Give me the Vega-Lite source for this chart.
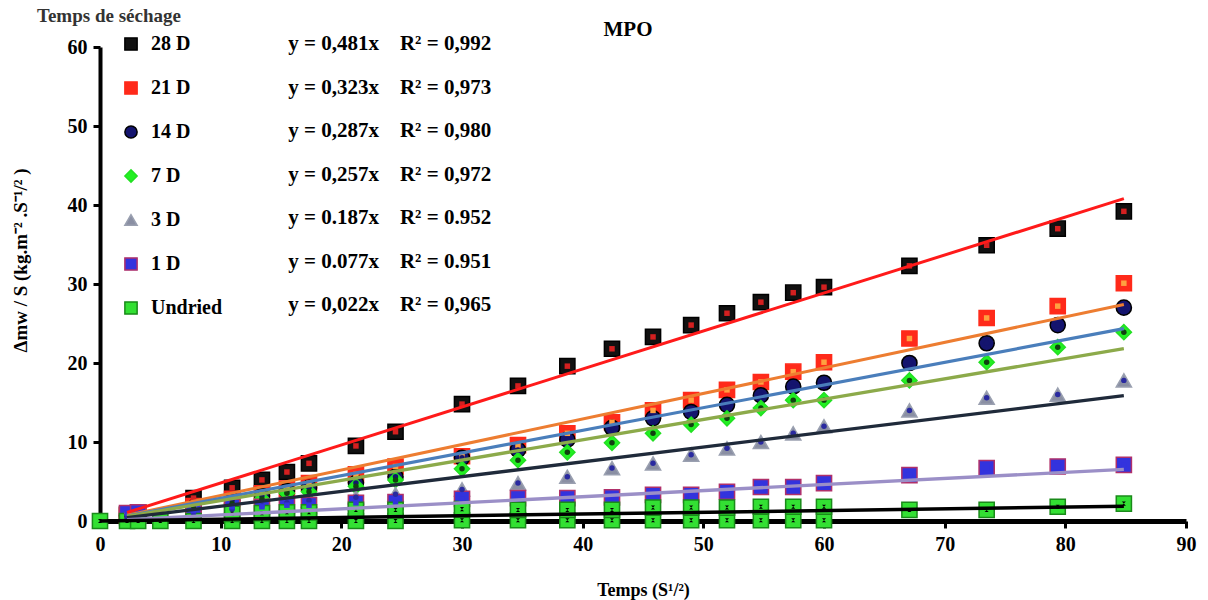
{
"$schema": "https://vega.github.io/schema/vega-lite/v6.json",
"width": 1086, "height": 474,
"autosize": "none",
"padding": {"left": 100, "top": 47, "right": 22, "bottom": 79},
"background": "white",
"config": {"view": {"stroke": null}, "font": "Liberation Serif", "axis": {"grid": false}},
"title": {"text": "MPO", "font": "Liberation Serif", "fontSize": 21, "fontWeight": "bold", "color": "black", "anchor": "middle", "frame": "group", "offset": 11, "dx": -15, "dy": 44},
"datasets": {
"pts": [
{"s":"28 D","x":2.24,"y":0.8},{"s":"28 D","x":3.16,"y":1.1},{"s":"28 D","x":7.75,"y":2.9},{"s":"28 D","x":10.95,"y":4.2},{"s":"28 D","x":13.42,"y":5.2},{"s":"28 D","x":15.49,"y":6.2},{"s":"28 D","x":17.32,"y":7.3},{"s":"28 D","x":21.21,"y":9.5},{"s":"28 D","x":24.49,"y":11.3},{"s":"28 D","x":30,"y":14.8},{"s":"28 D","x":34.64,"y":17.1},{"s":"28 D","x":38.73,"y":19.6},{"s":"28 D","x":42.43,"y":21.8},{"s":"28 D","x":45.83,"y":23.3},{"s":"28 D","x":48.99,"y":24.8},{"s":"28 D","x":51.96,"y":26.3},{"s":"28 D","x":54.77,"y":27.7},{"s":"28 D","x":57.45,"y":28.9},{"s":"28 D","x":60,"y":29.6},{"s":"28 D","x":67.08,"y":32.3},{"s":"28 D","x":73.48,"y":34.9},{"s":"28 D","x":79.37,"y":37.0},{"s":"28 D","x":84.85,"y":39.2},
{"s":"21 D","x":2.24,"y":0.7},{"s":"21 D","x":3.16,"y":0.9},{"s":"21 D","x":7.75,"y":1.9},{"s":"21 D","x":10.95,"y":2.8},{"s":"21 D","x":13.42,"y":3.5},{"s":"21 D","x":15.49,"y":4.1},{"s":"21 D","x":17.32,"y":4.8},{"s":"21 D","x":21.21,"y":5.9},{"s":"21 D","x":24.49,"y":6.9},{"s":"21 D","x":30,"y":8.2},{"s":"21 D","x":34.64,"y":9.6},{"s":"21 D","x":38.73,"y":11.1},{"s":"21 D","x":42.43,"y":12.5},{"s":"21 D","x":45.83,"y":14.0},{"s":"21 D","x":48.99,"y":15.3},{"s":"21 D","x":51.96,"y":16.6},{"s":"21 D","x":54.77,"y":17.6},{"s":"21 D","x":57.45,"y":18.9},{"s":"21 D","x":60,"y":20.1},{"s":"21 D","x":67.08,"y":23.1},{"s":"21 D","x":73.48,"y":25.7},{"s":"21 D","x":79.37,"y":27.2},{"s":"21 D","x":84.85,"y":30.1},
{"s":"14 D","x":2.24,"y":0.7},{"s":"14 D","x":3.16,"y":0.9},{"s":"14 D","x":7.75,"y":1.7},{"s":"14 D","x":10.95,"y":2.6},{"s":"14 D","x":13.42,"y":3.2},{"s":"14 D","x":15.49,"y":3.8},{"s":"14 D","x":17.32,"y":4.2},{"s":"14 D","x":21.21,"y":4.8},{"s":"14 D","x":24.49,"y":5.6},{"s":"14 D","x":30,"y":8.0},{"s":"14 D","x":34.64,"y":9.0},{"s":"14 D","x":38.73,"y":10.3},{"s":"14 D","x":42.43,"y":11.8},{"s":"14 D","x":45.83,"y":13.0},{"s":"14 D","x":48.99,"y":13.8},{"s":"14 D","x":51.96,"y":14.7},{"s":"14 D","x":54.77,"y":15.9},{"s":"14 D","x":57.45,"y":17.0},{"s":"14 D","x":60,"y":17.5},{"s":"14 D","x":67.08,"y":20.0},{"s":"14 D","x":73.48,"y":22.5},{"s":"14 D","x":79.37,"y":24.8},{"s":"14 D","x":84.85,"y":27.0},
{"s":"7 D","x":2.24,"y":0.6},{"s":"7 D","x":3.16,"y":0.8},{"s":"7 D","x":7.75,"y":1.5},{"s":"7 D","x":10.95,"y":2.2},{"s":"7 D","x":13.42,"y":2.8},{"s":"7 D","x":15.49,"y":3.5},{"s":"7 D","x":17.32,"y":3.7},{"s":"7 D","x":21.21,"y":4.4},{"s":"7 D","x":24.49,"y":5.2},{"s":"7 D","x":30,"y":6.6},{"s":"7 D","x":34.64,"y":7.7},{"s":"7 D","x":38.73,"y":8.7},{"s":"7 D","x":42.43,"y":9.9},{"s":"7 D","x":45.83,"y":11.1},{"s":"7 D","x":48.99,"y":12.2},{"s":"7 D","x":51.96,"y":13.0},{"s":"7 D","x":54.77,"y":14.3},{"s":"7 D","x":57.45,"y":15.3},{"s":"7 D","x":60,"y":15.3},{"s":"7 D","x":67.08,"y":17.8},{"s":"7 D","x":73.48,"y":20.1},{"s":"7 D","x":79.37,"y":22.0},{"s":"7 D","x":84.85,"y":23.9},
{"s":"3 D","x":2.24,"y":0.4},{"s":"3 D","x":3.16,"y":0.6},{"s":"3 D","x":7.75,"y":1.0},{"s":"3 D","x":10.95,"y":1.5},{"s":"3 D","x":13.42,"y":1.9},{"s":"3 D","x":15.49,"y":2.3},{"s":"3 D","x":17.32,"y":2.6},{"s":"3 D","x":21.21,"y":3.0},{"s":"3 D","x":24.49,"y":3.4},{"s":"3 D","x":30,"y":4.0},{"s":"3 D","x":34.64,"y":4.8},{"s":"3 D","x":38.73,"y":5.6},{"s":"3 D","x":42.43,"y":6.7},{"s":"3 D","x":45.83,"y":7.3},{"s":"3 D","x":48.99,"y":8.4},{"s":"3 D","x":51.96,"y":9.2},{"s":"3 D","x":54.77,"y":10.0},{"s":"3 D","x":57.45,"y":11.1},{"s":"3 D","x":60,"y":12.0},{"s":"3 D","x":67.08,"y":14.0},{"s":"3 D","x":73.48,"y":15.6},{"s":"3 D","x":79.37,"y":16.0},{"s":"3 D","x":84.85,"y":17.8},
{"s":"1 D","x":2.24,"y":1.0},{"s":"1 D","x":3.16,"y":1.1},{"s":"1 D","x":7.75,"y":1.3},{"s":"1 D","x":10.95,"y":1.8},{"s":"1 D","x":13.42,"y":1.8},{"s":"1 D","x":15.49,"y":2.0},{"s":"1 D","x":17.32,"y":2.0},{"s":"1 D","x":21.21,"y":2.3},{"s":"1 D","x":24.49,"y":2.4},{"s":"1 D","x":30,"y":2.8},{"s":"1 D","x":34.64,"y":2.9},{"s":"1 D","x":38.73,"y":2.9},{"s":"1 D","x":42.43,"y":3.0},{"s":"1 D","x":45.83,"y":3.3},{"s":"1 D","x":48.99,"y":3.3},{"s":"1 D","x":51.96,"y":3.7},{"s":"1 D","x":54.77,"y":4.3},{"s":"1 D","x":57.45,"y":4.3},{"s":"1 D","x":60,"y":4.8},{"s":"1 D","x":67.08,"y":5.8},{"s":"1 D","x":73.48,"y":6.7},{"s":"1 D","x":79.37,"y":6.9},{"s":"1 D","x":84.85,"y":7.1},
{"s":"Undried","x":0,"y":0},{"s":"Undried","x":2.24,"y":0},{"s":"Undried","x":3.16,"y":0},{"s":"Undried","x":5.0,"y":0},{"s":"Undried","x":7.75,"y":0},{"s":"Undried","x":10.95,"y":0},{"s":"Undried","x":13.42,"y":0},{"s":"Undried","x":15.49,"y":0},{"s":"Undried","x":17.32,"y":0},{"s":"Undried","x":21.21,"y":0},{"s":"Undried","x":24.49,"y":0},{"s":"Undried","x":30,"y":0.1},{"s":"Undried","x":34.64,"y":0.1},{"s":"Undried","x":38.73,"y":0.1},{"s":"Undried","x":42.43,"y":0.1},{"s":"Undried","x":45.83,"y":0.1},{"s":"Undried","x":48.99,"y":0.1},{"s":"Undried","x":51.96,"y":0.1},{"s":"Undried","x":54.77,"y":0.1},{"s":"Undried","x":57.45,"y":0.1},{"s":"Undried","x":60,"y":0.1},
{"s":"Undried","x":10.95,"y":0.9},{"s":"Undried","x":13.42,"y":1.0},{"s":"Undried","x":15.49,"y":1.1},{"s":"Undried","x":17.32,"y":1.1},{"s":"Undried","x":21.21,"y":1.4},{"s":"Undried","x":24.49,"y":1.4},{"s":"Undried","x":30,"y":1.5},{"s":"Undried","x":34.64,"y":1.4},{"s":"Undried","x":38.73,"y":1.4},{"s":"Undried","x":42.43,"y":1.4},{"s":"Undried","x":45.83,"y":1.7},{"s":"Undried","x":48.99,"y":1.7},{"s":"Undried","x":51.96,"y":1.7},{"s":"Undried","x":54.77,"y":1.8},{"s":"Undried","x":57.45,"y":1.8},{"s":"Undried","x":60,"y":1.8},{"s":"Undried","x":67.08,"y":1.4},{"s":"Undried","x":73.48,"y":1.4},{"s":"Undried","x":79.37,"y":1.8},{"s":"Undried","x":84.85,"y":2.2}
],
"trend": [
{"s":"28 D","x":2.24,"y":1.08},{"s":"28 D","x":84.85,"y":40.81},
{"s":"21 D","x":2.24,"y":0.72},{"s":"21 D","x":84.85,"y":27.41},
{"s":"14 D","x":2.24,"y":0.64},{"s":"14 D","x":84.85,"y":24.35},
{"s":"7 D","x":2.24,"y":0.58},{"s":"7 D","x":84.85,"y":21.81},
{"s":"3 D","x":2.24,"y":0.42},{"s":"3 D","x":84.85,"y":15.87},
{"s":"1 D","x":2.24,"y":0.17},{"s":"1 D","x":84.85,"y":6.53},
{"s":"Undried","x":0,"y":0},{"s":"Undried","x":84.85,"y":1.87}
],
"eqs": [
{"s":"28 D","eq":"y = 0,481x\u00a0\u00a0\u00a0\u00a0R² = 0,992"},
{"s":"21 D","eq":"y = 0,323x\u00a0\u00a0\u00a0\u00a0R² = 0,973"},
{"s":"14 D","eq":"y = 0,287x\u00a0\u00a0\u00a0\u00a0R² = 0,980"},
{"s":"7 D","eq":"y = 0,257x\u00a0\u00a0\u00a0\u00a0R² = 0,972"},
{"s":"3 D","eq":"y = 0.187x\u00a0\u00a0\u00a0\u00a0R² = 0.952"},
{"s":"1 D","eq":"y = 0.077x\u00a0\u00a0\u00a0\u00a0R² = 0.951"},
{"s":"Undried","eq":"y = 0,022x\u00a0\u00a0\u00a0\u00a0R² = 0,965"}
]
},
"layer": [
{
"layer": [
{
"data": {"name": "pts"},
"mark": {"type": "point", "filled": true, "strokeWidth": 1.5, "opacity": 1, "size": 230},
"encoding": {
"x": {"field": "x", "type": "quantitative", "scale": {"domain": [0, 90], "nice": false, "zero": false},
 "axis": {"values": [0,10,20,30,40,50,60,70,80,90], "title": "Temps (S¹/²)", "titleFont": "Liberation Serif", "titleFontSize": 18, "titleFontWeight": "bold", "titleColor": "black", "titlePadding": 27, "labelFont": "Liberation Serif", "labelFontSize": 20, "labelFontWeight": "bold", "labelColor": "black", "labelPadding": 6, "domainColor": "black", "domainWidth": 5, "tickColor": "black", "tickWidth": 3, "tickSize": 7, "grid": false, "labelFlush": false}},
"y": {"field": "y", "type": "quantitative", "scale": {"domain": [0, 60], "nice": false},
 "axis": {"values": [0,10,20,30,40,50,60], "title": "Δmw / S  (kg.m⁻² .S⁻¹/² )", "titleFont": "Liberation Serif", "titleFontSize": 19, "titleFontWeight": "bold", "titleColor": "black", "titleX": -70, "titleY": 213, "labelFont": "Liberation Serif", "labelFontSize": 20, "labelFontWeight": "bold", "labelColor": "black", "labelPadding": 6, "domainColor": "black", "domainWidth": 4, "tickColor": "black", "tickWidth": 3, "tickSize": 7, "grid": false}},
"fill": {"field": "s", "type": "nominal", "scale": {"domain": ["28 D","21 D","14 D","7 D","3 D","1 D","Undried"], "range": ["#111111","#ff2a1a","#14146e","#22f022","#8a8fa3","#3333dd","#33e033"]},
 "legend": {"title": "Temps de séchage", "orient": "none", "legendX": -63, "legendY": -40, "titleFont": "Liberation Serif", "titleFontSize": 19, "titleFontWeight": "bold", "titleColor": "#333333", "labelFont": "Liberation Serif", "labelFontSize": 20, "labelFontWeight": "bold", "labelColor": "black", "symbolSize": 150, "symbolStrokeWidth": 1.5, "rowPadding": 24, "symbolOffset": 84, "labelOffset": 10, "titlePadding": 8, "labelLimit": 200}},
"shape": {"field": "s", "type": "nominal", "scale": {"domain": ["28 D","21 D","14 D","7 D","3 D","1 D","Undried"], "range": ["square","square","circle","diamond","triangle-up","square","square"]},
 "legend": {"title": "Temps de séchage", "orient": "none", "legendX": -63, "legendY": -40, "titleFont": "Liberation Serif", "titleFontSize": 19, "titleFontWeight": "bold", "titleColor": "#333333", "labelFont": "Liberation Serif", "labelFontSize": 20, "labelFontWeight": "bold", "labelColor": "black", "symbolSize": 150, "symbolStrokeWidth": 1.5, "rowPadding": 24, "symbolOffset": 84, "labelOffset": 10, "titlePadding": 8, "labelLimit": 200}},
"stroke": {"field": "s", "type": "nominal", "scale": {"domain": ["28 D","21 D","14 D","7 D","3 D","1 D","Undried"], "range": ["#000000","#ff2a1a","#000000","#22e022","#9aa0b0","#b0306a","#1a8a1a"]},
 "legend": {"title": "Temps de séchage", "orient": "none", "legendX": -63, "legendY": -40, "titleFont": "Liberation Serif", "titleFontSize": 19, "titleFontWeight": "bold", "titleColor": "#333333", "labelFont": "Liberation Serif", "labelFontSize": 20, "labelFontWeight": "bold", "labelColor": "black", "symbolSize": 150, "symbolStrokeWidth": 1.5, "rowPadding": 24, "symbolOffset": 84, "labelOffset": 10, "titlePadding": 8, "labelLimit": 200}}
}
},
{
"data": {"name": "pts"},
"mark": {"type": "point", "filled": true, "strokeWidth": 0, "opacity": 1},
"encoding": {
"x": {"field": "x", "type": "quantitative"},
"y": {"field": "y", "type": "quantitative"},
"fill": {"field": "s", "type": "nominal", "scale": {"domain": ["28 D","21 D","14 D","7 D","3 D","1 D","Undried"], "range": ["#d42020","#ffa040","#14146e","#104010","#2a2aa0","#3333dd","#000000"]}, "legend": null},
"shape": {"field": "s", "type": "nominal", "scale": {"domain": ["28 D","21 D","14 D","7 D","3 D","1 D","Undried"], "range": ["square","square","circle","circle","circle","square","M-0.75,-0.75L0.75,-0.75L0,0ZM-0.75,0.75L0.75,0.75L0,0Z"]}, "legend": null},
"size": {"field": "s", "type": "nominal", "scale": {"domain": ["28 D","21 D","14 D","7 D","3 D","1 D","Undried"], "range": [30, 30, 10, 14, 12, 40, 200]}, "legend": null}
}
},
{
"data": {"name": "trend"},
"mark": {"type": "line"},
"encoding": {
"x": {"field": "x", "type": "quantitative"},
"y": {"field": "y", "type": "quantitative"},
"stroke": {"field": "s", "type": "nominal", "scale": {"domain": ["28 D","21 D","14 D","7 D","3 D","1 D","Undried"], "range": ["#ff1a1a","#ed7d31","#4a7ebb","#8caa4a","#1f2a3a","#9b8fc7","#000000"]}, "legend": null},
"strokeWidth": {"field": "s", "type": "ordinal", "scale": {"domain": ["28 D","21 D","14 D","7 D","3 D","1 D","Undried"], "range": [3, 3.5, 3, 3, 3, 2, 5]}, "legend": null}
}
}
],
"resolve": {"scale": {"fill": "independent", "shape": "independent", "stroke": "independent", "size": "independent"}}
},
{
"data": {"name": "eqs"},
"mark": {"type": "text", "align": "left", "baseline": "middle", "font": "Liberation Serif", "fontSize": 21, "fontWeight": "bold", "color": "black"},
"encoding": {
"x": {"datum": 15.6, "type": "quantitative"},
"y": {"field": "s", "type": "nominal", "scale": {"type": "point", "domain": ["28 D","21 D","14 D","7 D","3 D","1 D","Undried"], "range": [-3, 258], "padding": 0}, "axis": null},
"text": {"field": "eq", "type": "nominal"}
}
}
],
"resolve": {"scale": {"y": "independent"}}
}
